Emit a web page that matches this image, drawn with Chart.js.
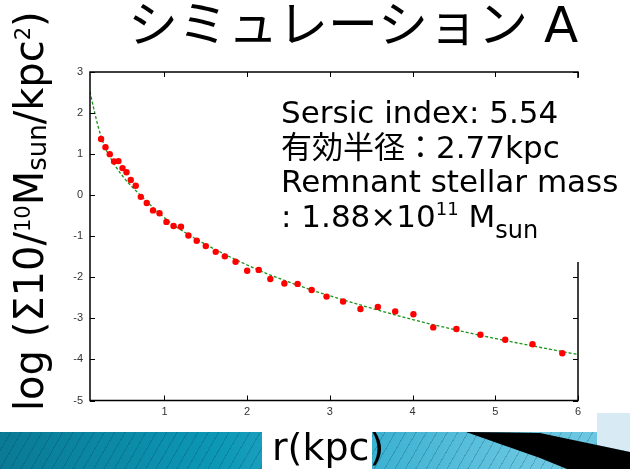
<!DOCTYPE html>
<html>
<head>
<meta charset="utf-8">
<script src="https://cdn.jsdelivr.net/npm/chart.js@4.4.0/dist/chart.umd.min.js"></script>
<style>
  html, body { margin: 0; padding: 0; background: #fff; }
  #wrap { position: relative; width: 630px; height: 469px; overflow: hidden; background: #fff; }
  .deco { position: absolute; }
  #stripes {
    left: 0; top: 432px; width: 630px; height: 37px;
    background:
      repeating-linear-gradient(120deg, rgba(0, 50, 70, 0.22) 0 1px, transparent 1px 9px),
      linear-gradient(90deg, #0a7a95 0%, #0c98b6 35%, #3db2d2 60%, #6bc7e1 85%);
  }
  #light { left: 0; top: 0; width: 630px; height: 469px; background: #d8ebf4;
    clip-path: polygon(597px 413px, 630px 413px, 630px 452px, 597px 445px); }
  #dark { left: 0; top: 0; width: 630px; height: 469px; background: #000;
    clip-path: polygon(466px 432px, 540px 433px, 630px 452px, 630px 469px, 567px 469px, 540px 458px); }
  canvas { position: absolute; left: 0; top: 0; }
</style>
</head>
<body>
<div id="wrap">
  <div class="deco" id="stripes"></div>
  <div class="deco" id="light"></div>
  <div class="deco" id="dark"></div>
  <canvas id="chart" width="630" height="469"></canvas>
</div>
<script>
// 観測点 (r [kpc], log Σ)
const radius = [0.234, 0.287, 0.339, 0.391, 0.444, 0.493, 0.541, 0.593, 0.653, 0.714,
  0.786, 0.862, 0.94, 1.024, 1.11, 1.2, 1.29, 1.39, 1.5, 1.62,
  1.73, 1.86, 2.0, 2.14, 2.28, 2.45, 2.61, 2.78, 2.96, 3.16,
  3.37, 3.58, 3.79, 4.01, 4.25, 4.53, 4.82, 5.12, 5.45, 5.81];
const surface = [1.37, 1.17, 1.0, 0.82, 0.83, 0.66, 0.56, 0.37, 0.23, -0.04,
  -0.19, -0.37, -0.44, -0.65, -0.75, -0.77, -0.98, -1.11, -1.24, -1.38,
  -1.49, -1.62, -1.84, -1.82, -2.04, -2.15, -2.16, -2.31, -2.47, -2.59,
  -2.77, -2.72, -2.83, -2.9, -3.22, -3.26, -3.4, -3.52, -3.63, -3.85];

// セルシック・フィット (破線)
const fitRadius = [0.1, 0.15, 0.2, 0.25, 0.3, 0.35, 0.4, 0.5, 0.6, 0.7, 0.8, 0.9, 1.0,
  1.1, 1.25, 1.5, 1.75, 2.0, 2.25, 2.5, 2.75, 3.0, 3.5, 4.0, 4.5, 5.0, 5.5, 6.0];
const fitSurface = [2.52, 2.07, 1.66, 1.33, 1.08, 0.9, 0.73, 0.45, 0.22, 0.02, -0.18, -0.37, -0.55,
  -0.71, -0.91, -1.2, -1.46, -1.7, -1.92, -2.11, -2.29, -2.45, -2.75, -3.03, -3.27, -3.49, -3.69, -3.88];

const xTicks = [1, 2, 3, 4, 5, 6];
const yTicks = [-5, -4, -3, -2, -1, 0, 1, 2, 3];

const FONT = '"DejaVu Sans", "Noto Sans CJK JP", sans-serif';

// 上付き・下付きを含む文字列を描く
function drawRich(ctx, x, y, parts) {
  let cx = x;
  parts.forEach(p => {
    ctx.font = p.size + 'px ' + FONT;
    ctx.fillText(p.text, cx, y + (p.dy || 0));
    cx += ctx.measureText(p.text).width;
  });
}

const decor = {
  id: 'decor',
  afterDraw(chart) {
    const ctx = chart.ctx;
    const a = chart.chartArea;
    const xs = chart.scales.x, ys = chart.scales.y;
    ctx.save();

    // 枠と内向きの目盛り
    ctx.strokeStyle = '#000';
    ctx.lineWidth = 1.5;
    ctx.strokeRect(a.left, a.top, a.right - a.left, a.bottom - a.top);
    ctx.lineWidth = 1;
    ctx.beginPath();
    xTicks.forEach(v => {
      const px = Math.round(xs.getPixelForValue(v)) + 0.5;
      ctx.moveTo(px, a.bottom); ctx.lineTo(px, a.bottom - 5);
      ctx.moveTo(px, a.top); ctx.lineTo(px, a.top + 5);
    });
    yTicks.forEach(v => {
      const py = Math.round(ys.getPixelForValue(v)) + 0.5;
      ctx.moveTo(a.left, py); ctx.lineTo(a.left + 5, py);
      ctx.moveTo(a.right, py); ctx.lineTo(a.right - 5, py);
    });
    ctx.stroke();

    // 注記のテキストボックス
    ctx.fillStyle = '#fff';
    ctx.fillRect(276, 78, 354, 184);
    ctx.fillStyle = '#000';
    ctx.textBaseline = 'alphabetic';
    ctx.textAlign = 'left';
    drawRich(ctx, 281, 123, [{ text: 'Sersic index: 5.54', size: 31 }]);
    drawRich(ctx, 281, 158, [{ text: '有効半径：2.77kpc', size: 31 }]);
    drawRich(ctx, 281, 192, [{ text: 'Remnant stellar mass', size: 31 }]);
    drawRich(ctx, 281, 227, [
      { text: ': 1.88×10', size: 31 },
      { text: '11', size: 18, dy: -12 },
      { text: ' M', size: 31 },
      { text: 'sun', size: 24, dy: 11 }
    ]);

    // タイトル
    drawRich(ctx, 128, 42, [{ text: 'シミュレーション A', size: 50 }]);

    // x 軸ラベル
    ctx.fillStyle = '#fff';
    ctx.fillRect(262, 432, 110, 37);
    ctx.fillStyle = '#000';
    drawRich(ctx, 272, 460, [{ text: 'r(kpc)', size: 38 }]);

    // y 軸ラベル (回転)
    ctx.translate(43, 411);
    ctx.rotate(-Math.PI / 2);
    drawRich(ctx, 0, 0, [
      { text: 'log (Σ10/', size: 40 },
      { text: '10', size: 21, dy: -13 },
      { text: 'M', size: 40 },
      { text: 'sun', size: 26, dy: 3 },
      { text: '/kpc', size: 40 },
      { text: '2', size: 21, dy: -13 },
      { text: ')', size: 40 }
    ]);
    ctx.restore();
  }
};

new Chart(document.getElementById('chart'), {
  type: 'scatter',
  data: {
    datasets: [
      {
        label: 'data',
        data: radius.map((r, i) => ({ x: r, y: surface[i] })),
        pointRadius: 3.2,
        pointBackgroundColor: '#ff0000',
        pointBorderWidth: 0,
        showLine: false
      },
      {
        label: 'fit',
        data: fitRadius.map((r, i) => ({ x: r, y: fitSurface[i] })),
        showLine: true,
        borderColor: '#1a931a',
        borderWidth: 1.3,
        borderDash: [3, 2],
        pointRadius: 0,
        cubicInterpolationMode: 'monotone'
      }
    ]
  },
  options: {
    responsive: false,
    animation: false,
    layout: { padding: { top: 72, right: 52, left: 0, bottom: 0 } },
    plugins: { legend: { display: false }, tooltip: { enabled: false } },
    scales: {
      x: {
        type: 'linear', min: 0.1, max: 6,
        grid: { display: false, drawTicks: false }, border: { display: false },
        afterBuildTicks: s => { s.ticks = xTicks.map(v => ({ value: v })); },
        afterFit: s => { s.height = 68.5; },
        ticks: { padding: 5, color: '#333', font: { family: 'Liberation Sans', size: 11 } }
      },
      y: {
        type: 'linear', min: -5, max: 3,
        grid: { display: false, drawTicks: false }, border: { display: false },
        afterBuildTicks: s => { s.ticks = yTicks.map(v => ({ value: v })); },
        afterFit: s => { s.width = 90; },
        ticks: { padding: 7, color: '#333', font: { family: 'Liberation Sans', size: 11 } }
      }
    }
  },
  plugins: [decor]
});
</script>
</body>
</html>
